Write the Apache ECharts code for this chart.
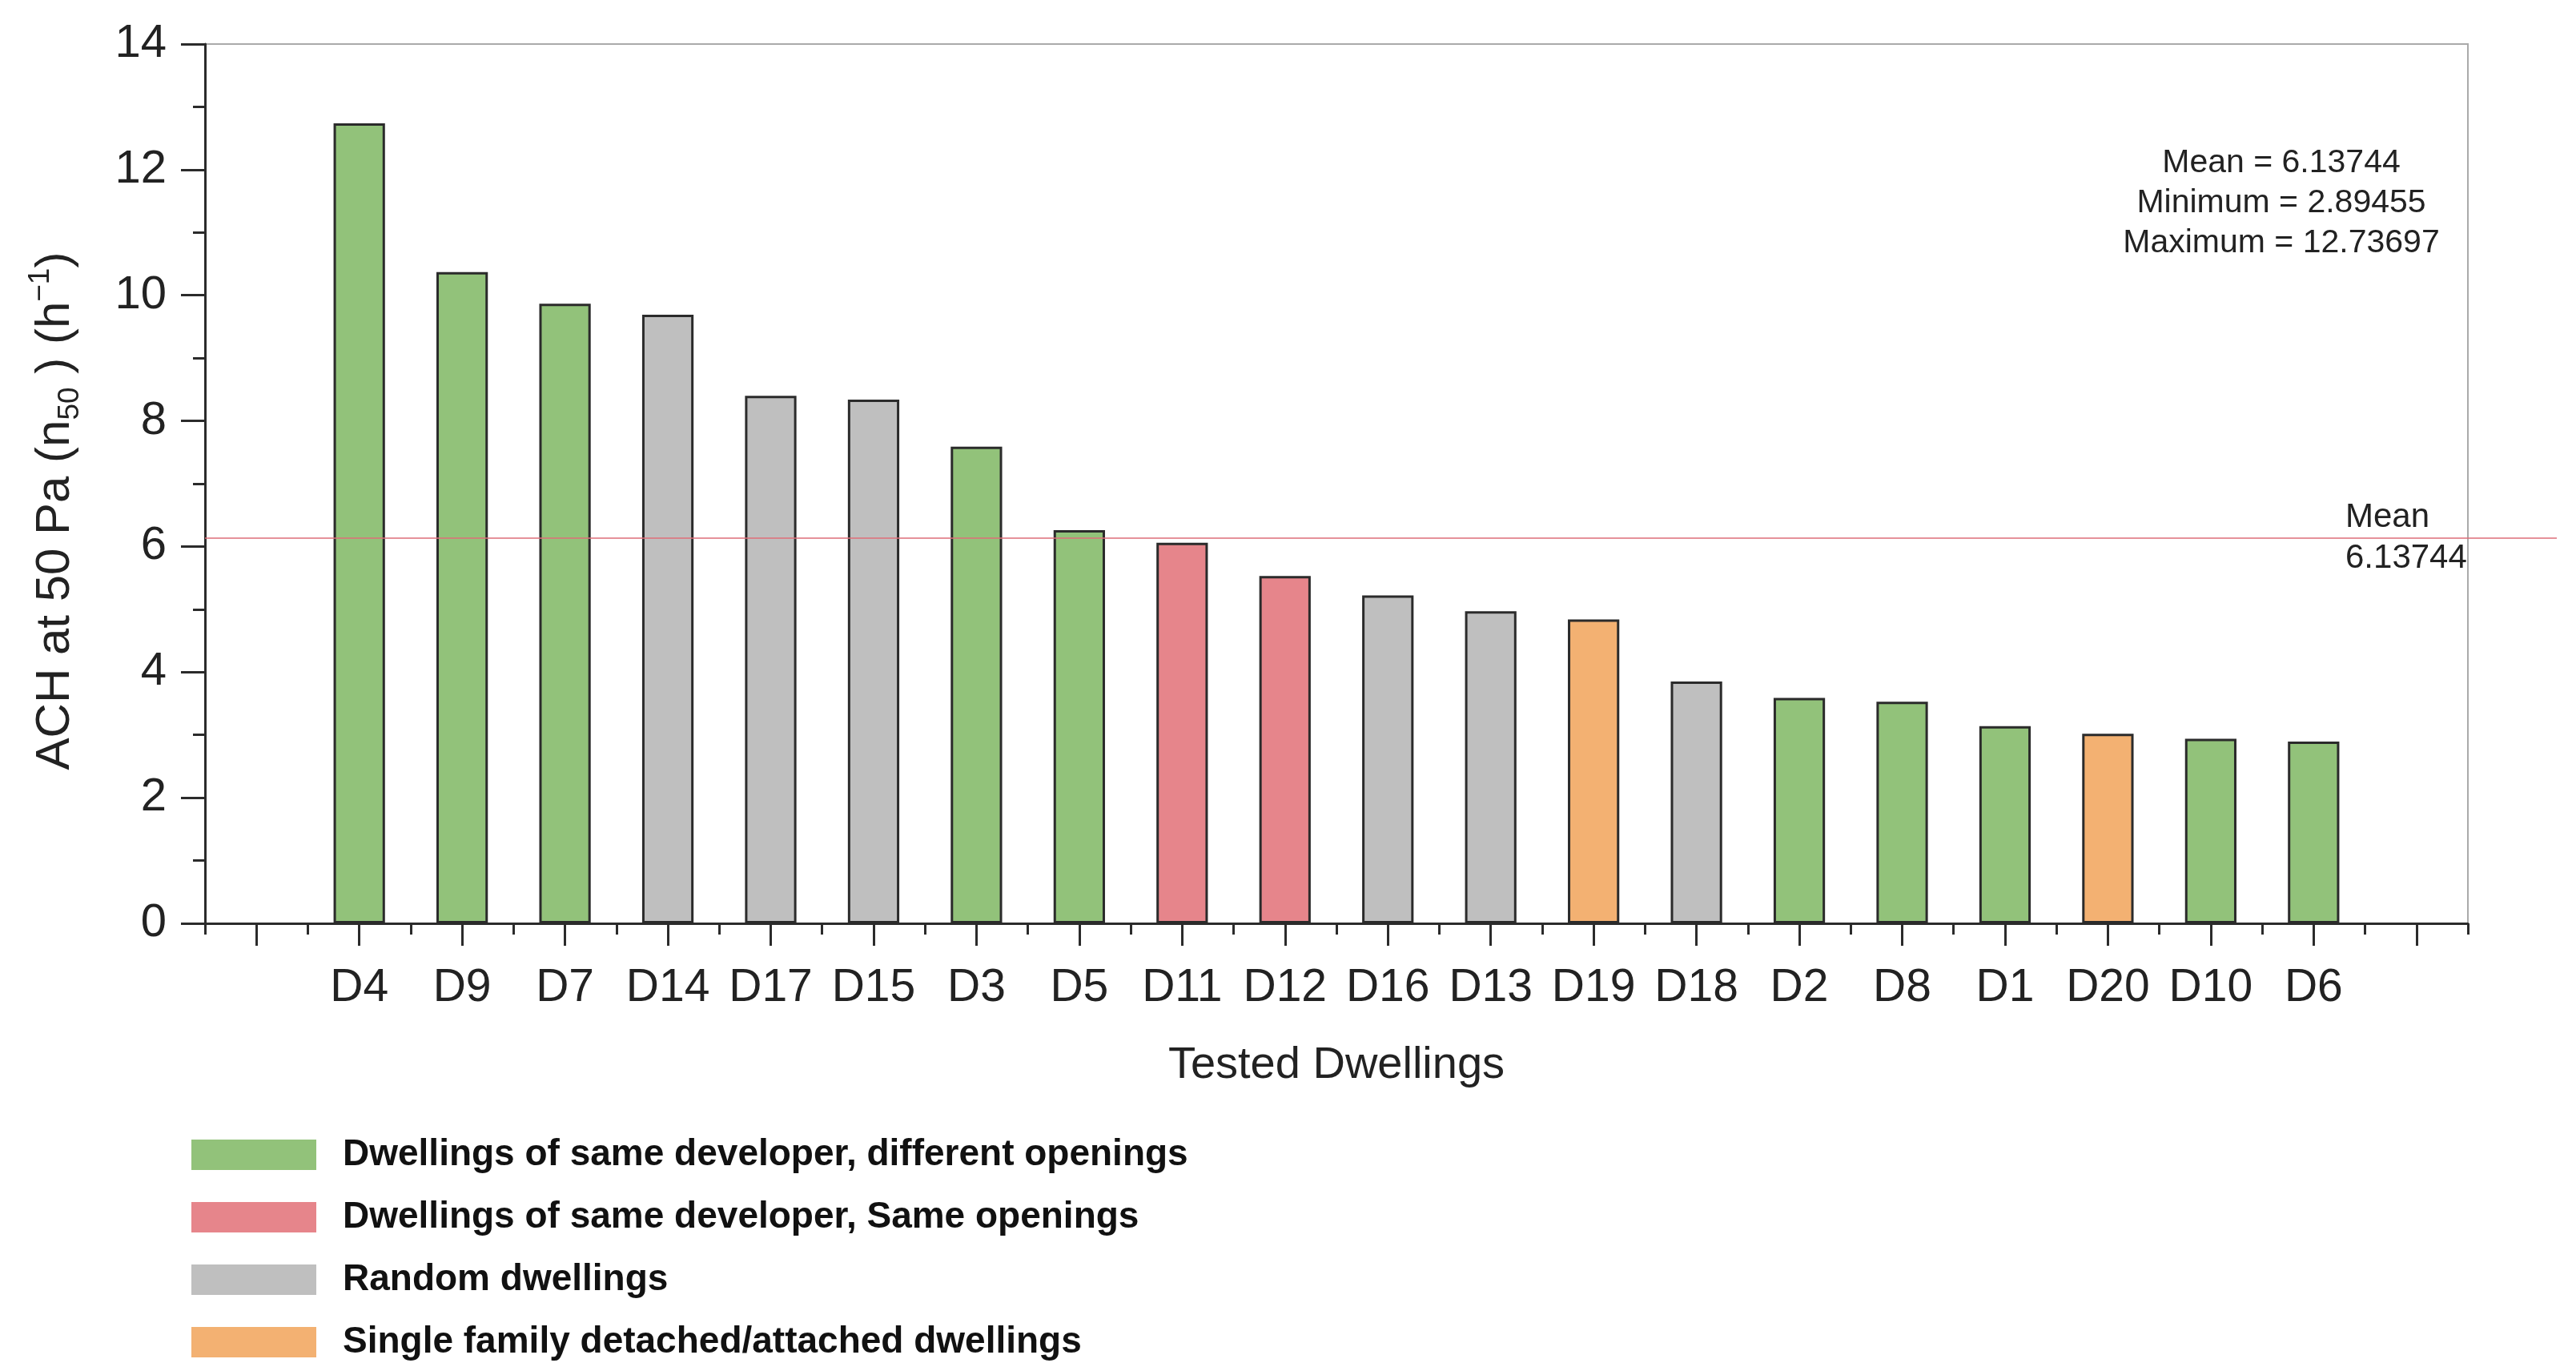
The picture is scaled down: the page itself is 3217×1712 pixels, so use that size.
<!DOCTYPE html>
<html>
<head>
<meta charset="utf-8">
<script src="https://cdn.jsdelivr.net/npm/echarts@6/dist/echarts.min.js"></script>
<style>
html,body{margin:0;padding:0;background:#fff;}
#chart{width:3217px;height:1712px;}
</style>
</head>
<body>
<div id="chart"></div>
<script>
// ---- Data ----
const dwellings = ['D4','D9','D7','D14','D17','D15','D3','D5','D11','D12','D16','D13','D19','D18','D2','D8','D1','D20','D10','D6'];
const ach = [12.737,10.37,9.865,9.69,8.40,8.34,7.59,6.26,6.06,5.53,5.22,4.97,4.84,3.85,3.59,3.53,3.14,3.02,2.94,2.895];
const groupOf = [0,0,0,2,2,2,0,0,1,1,2,2,3,2,0,0,0,3,0,0];
const groupNames = [
  'Dwellings of same developer, different openings',
  'Dwellings of same developer, Same openings',
  'Random dwellings',
  'Single family detached/attached dwellings'
];
const groupColors = ['#92C27A','#E6858B','#BFBFBF','#F3B172'];
const meanValue = 6.13744;
const minValue = 2.89455;
const maxValue = 12.73697;
const yMin = 0, yMax = 14, yStep = 2;

// ---- Layout ----
const FONT = '"Liberation Sans", Arial, sans-serif';
const gridLeft = 256, gridRight = 135, gridTop = 55, gridBottom = 559;

const axisCats = [''].concat(dwellings).concat([' ']);

const series = groupNames.map((name, g) => ({
  name: name,
  type: 'bar',
  xAxisIndex: 0,
  barWidth: '50%',
  barGap: '-100%',
  itemStyle: { color: groupColors[g], borderColor: '#2b2b2b', borderWidth: 3 },
  data: ['-'].concat(ach.map((v, i) => groupOf[i] === g ? v : '-')).concat(['-'])
}));

series[0].markLine = {
  silent: true,
  symbol: ['none', 'none'],
  lineStyle: { color: 'rgba(222,110,120,0.75)', width: 2, type: 'solid' },
  label: {
    show: true,
    position: 'insideEnd',
    align: 'left',
    distance: 264,
    formatter: 'Mean\n' + meanValue,
    fontFamily: FONT,
    fontSize: 42,
    lineHeight: 51,
    color: '#222'
  },
  data: [[
    { yAxis: meanValue, x: gridLeft },
    { yAxis: meanValue, x: 3193 }
  ]],
  z: 10
};

const option = {
  animation: false,
  backgroundColor: '#fff',
  textStyle: { fontFamily: FONT },
  grid: {
    left: gridLeft, right: gridRight, top: gridTop, bottom: gridBottom,
    show: true, borderColor: '#aaaaaa', borderWidth: 2, backgroundColor: 'transparent'
  },
  legend: {
    data: groupNames,
    orient: 'vertical',
    left: 234, top: 1414,
    itemWidth: 156, itemHeight: 38, itemGap: 32,
    icon: 'rect',
    selectedMode: false,
    itemStyle: { borderWidth: 0 },
    textStyle: { fontFamily: FONT, fontSize: 46, fontWeight: 'bold', color: '#111', padding: [0, 0, 0, 28] }
  },
  xAxis: [{
    type: 'category',
    data: axisCats,
    position: 'bottom',
    name: 'Tested Dwellings',
    nameLocation: 'middle',
    nameGap: 150,
    nameTextStyle: { fontFamily: FONT, fontSize: 56, color: '#222' },
    axisLine: { show: true, lineStyle: { color: '#2b2b2b', width: 3 } },
    axisTick: { show: true, alignWithLabel: true, interval: 0, length: 28, lineStyle: { color: '#2b2b2b', width: 3 } },
    axisLabel: { interval: 0, margin: 53, fontFamily: FONT, fontSize: 57, color: '#222' },
    splitLine: { show: false }
  }, {
    type: 'category',
    data: axisCats,
    position: 'bottom',
    axisLine: { show: false },
    axisTick: { show: true, alignWithLabel: false, interval: 0, length: 14, lineStyle: { color: '#2b2b2b', width: 3 } },
    axisLabel: { show: false },
    splitLine: { show: false }
  }],
  yAxis: {
    type: 'value',
    min: yMin, max: yMax, interval: yStep,
    name: '{m|ACH at 50 Pa (n}{sub|50}{m| ) (h}{sup|−1}{m|)}',
    nameLocation: 'middle',
    nameGap: 150,
    nameTextStyle: {
      fontFamily: FONT, color: '#222',
      padding: [0, 68, 0, 0],
      rich: {
        m: { fontFamily: FONT, fontSize: 60, lineHeight: 74, color: '#222' },
        sub: { fontFamily: FONT, fontSize: 37, lineHeight: 37, verticalAlign: 'bottom', color: '#222' },
        sup: { fontFamily: FONT, fontSize: 37, lineHeight: 37, verticalAlign: 'top', color: '#222' }
      }
    },
    axisLine: { show: true, lineStyle: { color: '#2b2b2b', width: 3 } },
    axisTick: { show: true, length: 30, lineStyle: { color: '#2b2b2b', width: 3 } },
    minorTick: { show: true, splitNumber: 2, length: 15, lineStyle: { color: '#2b2b2b', width: 3 } },
    axisLabel: { margin: 48, fontFamily: FONT, fontSize: 58, color: '#222' },
    splitLine: { show: false },
    minorSplitLine: { show: false }
  },
  graphic: [{
    type: 'text',
    x: 2849, y: 254,
    style: {
      text: 'Mean = ' + meanValue + '\nMinimum = ' + minValue + '\nMaximum = ' + maxValue,
      fontFamily: FONT, fontSize: 41, lineHeight: 50, fill: '#222',
      align: 'center', verticalAlign: 'middle'
    }
  }],
  series: series
};

const chart = echarts.init(document.getElementById('chart'), null, { renderer: 'canvas' });
chart.setOption(option);
</script>
</body>
</html>
